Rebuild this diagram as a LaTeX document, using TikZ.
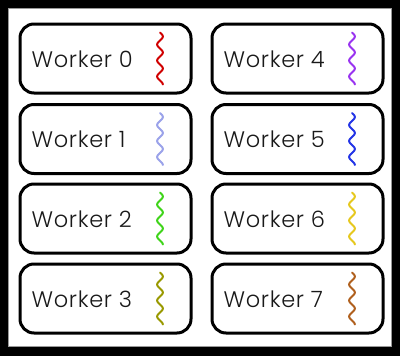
\documentclass[tikz,border=0pt]{standalone}
\usepackage{fontspec}
\setmainfont{Poppins Light}[LetterSpace=3]
\definecolor{w0}{HTML}{D00000}
\definecolor{w1}{HTML}{9AA2EA}
\definecolor{w2}{HTML}{3FD41A}
\definecolor{w3}{HTML}{999900}
\definecolor{w4}{HTML}{9933F0}
\definecolor{w5}{HTML}{2233E6}
\definecolor{w6}{HTML}{E6C81E}
\definecolor{w7}{HTML}{B0601E}
\begin{document}
\begin{tikzpicture}[x=1pt,y=-1pt,
  workerbox/.style={draw=black,line width=3pt,rounded corners=14pt,minimum width=171pt,minimum height=69pt,inner sep=0pt},
  workerlabel/.style={anchor=west,font=\fontsize{22.5}{26}\selectfont,text=black!90,inner sep=0pt},
  squig/.style={line width=2pt,line join=round,line cap=round}]
\useasboundingbox (0,0) rectangle (400,356);
\fill[black] (0,0) rectangle (400,356);
\fill[white] (8,8) rectangle (392,347);
\draw[black!40,line width=0.8pt] (8.5,8.5) rectangle (391.5,346.5);
\foreach \i/\col/\cx/\cy in {0/w0/105.5/58.5,1/w1/105.5/139,2/w2/105.5/218.5,3/w3/105.5/298.5,4/w4/297.5/58.5,5/w5/297.5/139,6/w6/297.5/218.5,7/w7/297.5/298.5}{
  \node[workerbox] (b\i) at (\cx,\cy) {};
  \node[workerlabel] (t\i) at ([xshift=13pt,yshift=-0.5pt]b\i.west) {Worker \i};
  \begin{scope}[shift={(\cx+54.5,\cy-26)}]
    \draw[squig,\col] (0,0) \foreach \k in {1,...,104} { -- ({2.8*sin(\k*11.25)},{\k*0.5}) };
  \end{scope}
}
\end{tikzpicture}
\end{document}
